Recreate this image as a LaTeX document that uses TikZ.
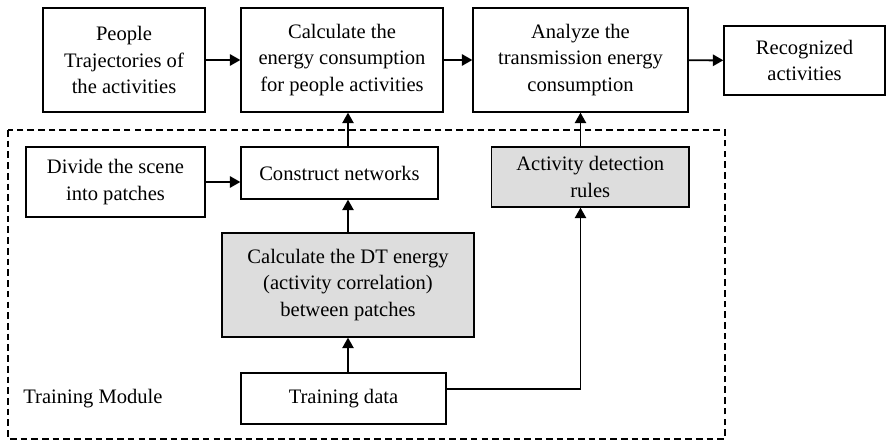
\documentclass[tikz,border=0pt]{standalone}
\usepackage{fontspec}
\setmainfont{Liberation Serif}
\usetikzlibrary{arrows.meta,positioning,calc}
\definecolor{boxgray}{RGB}{221,221,221}

\begin{document}
\begin{tikzpicture}[
  font=\fontsize{11.7}{15.2}\selectfont,
  blk/.style={draw,line width=0.75pt,align=center,inner sep=0pt},
  shd/.style={blk,fill=boxgray},
  arr/.style={-{Triangle[length=6pt,width=6.5pt]},line width=1.1pt},
  thin/.style={-{Triangle[length=6pt,width=6.5pt]},line width=0.8pt}
]
\useasboundingbox (0,0) rectangle (17.74,-8.84);

% training part
\draw[dashed,line width=0.6pt,dash pattern=on 3.8pt off 2.3pt]
  (0.16,-2.60) rectangle (14.50,-8.78);
\node[anchor=west,inner sep=0pt] (tm) at (0.46,-7.98) {Training Module};

% top row
\node[blk,minimum width=3.24cm,minimum height=2.08cm] (traj) at (2.48,-1.20)
  {People\\Trajectories of\\the activities};
\node[blk,minimum width=4.04cm,minimum height=2.08cm] (energy) at (6.84,-1.20)
  {Calculate the\\energy consumption\\for people activities};
\node[blk,minimum width=4.30cm,minimum height=2.08cm] (analyze) at (11.61,-1.20)
  {Analyze the\\transmission energy\\consumption};
\node[blk,minimum width=3.22cm,minimum height=1.38cm] (recog) at (16.09,-1.21)
  {Recognized\\activities};

% inside the module
\node[blk,minimum width=3.58cm,minimum height=1.40cm] (divide) at (2.31,-3.64)
  {Divide the scene\\into patches};
\node[blk,minimum width=3.94cm,minimum height=1.04cm] (construct) at (6.79,-3.46)
  {Construct networks};
\node[shd,minimum width=3.95cm,minimum height=1.20cm] (rules) at (11.805,-3.54)
  {Activity detection\\rules};
\node[shd,minimum width=5.04cm,minimum height=2.08cm] (dt) at (6.96,-5.70)
  {Calculate the DT energy\\(activity correlation)\\between patches};
\node[blk,minimum width=4.10cm,minimum height=1.02cm] (train) at (6.87,-7.97)
  {Training data};

\draw[arr] (traj) -- (energy);
\draw[arr] (energy) -- (analyze);
\draw[arr] (analyze) -- (recog);
\draw[arr] (divide.east) -- (divide.east -| construct.west);
\draw[thin] (construct.north -| dt) -- (energy.south -| dt);
\draw[thin] (dt.north) -- (construct.south -| dt);
\draw[thin] (train.north -| dt) -- (dt.south);
\draw[thin] (analyze |- rules.north) -- (analyze.south);
\draw[thin] ([yshift=0.19cm]train.east) -| (analyze |- rules.south);
\end{tikzpicture}
\end{document}
